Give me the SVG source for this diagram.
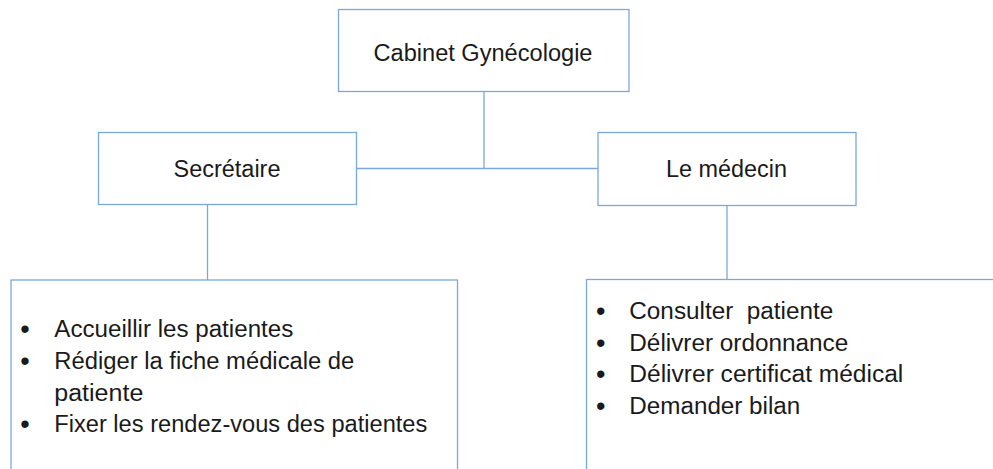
<svg xmlns="http://www.w3.org/2000/svg" width="993" height="469" viewBox="0 0 993 469">
  <style>
    .box { fill: #ffffff; stroke: #7aa8dc; stroke-width: 1.3; }
    .link { fill: none; stroke: #7aa8dc; stroke-width: 1.3; }
    .t { font-family: "Liberation Sans", Arial, sans-serif; font-size: 23px; fill: #1a1a1a; white-space: pre; }
    .mid { text-anchor: middle; }
    .b { font-family: "Liberation Sans", Arial, sans-serif; font-size: 27px; fill: #1a1a1a; }
  </style>
  <rect width="993" height="469" fill="#ffffff"/>

  <!-- connectors -->
  <g id="connectors">
    <line class="link" x1="484" y1="92" x2="484" y2="169"/>
    <line class="link" x1="357" y1="168.5" x2="598" y2="168.5"/>
    <line class="link" x1="207.5" y1="204.5" x2="207.5" y2="280"/>
    <line class="link" x1="727" y1="205.5" x2="727" y2="280"/>
  </g>

  <!-- root -->
  <g id="cabinet">
    <rect class="box" x="338.5" y="9.5" width="290.5" height="82"/>
    <text class="t mid" x="483" y="60.5" textLength="219" lengthAdjust="spacingAndGlyphs">Cabinet Gynécologie</text>
  </g>

  <!-- secretary -->
  <g id="secretaire">
    <rect class="box" x="98.5" y="132.5" width="258" height="72"/>
    <text class="t mid" x="227" y="176.5" textLength="107" lengthAdjust="spacingAndGlyphs">Secrétaire</text>
  </g>

  <!-- doctor -->
  <g id="medecin">
    <rect class="box" x="598" y="132.5" width="258" height="73"/>
    <text class="t mid" x="726.5" y="176.5" textLength="121" lengthAdjust="spacingAndGlyphs">Le médecin</text>
  </g>

  <!-- secretary tasks -->
  <g id="taches-secretaire">
    <rect class="box" x="11" y="280" width="446.5" height="200"/>
    <text class="b" x="20.3" y="338">•</text>
    <text class="t" x="54.3" y="337" textLength="239" lengthAdjust="spacingAndGlyphs">Accueillir les patientes</text>
    <text class="b" x="20.3" y="370">•</text>
    <text class="t" x="54.3" y="369" textLength="300" lengthAdjust="spacingAndGlyphs">Rédiger la fiche médicale de</text>
    <text class="t" x="54.3" y="400.5" textLength="89" lengthAdjust="spacingAndGlyphs">patiente</text>
    <text class="b" x="20.3" y="433">•</text>
    <text class="t" x="54.3" y="432" textLength="373" lengthAdjust="spacingAndGlyphs">Fixer les rendez-vous des patientes</text>
  </g>

  <!-- doctor tasks -->
  <g id="taches-medecin">
    <rect class="box" x="586.5" y="279.5" width="420" height="200"/>
    <text class="b" x="596" y="320">•</text>
    <text class="t" x="629.3" y="319" textLength="204" lengthAdjust="spacingAndGlyphs" xml:space="preserve">Consulter  patiente</text>
    <text class="b" x="596" y="351.5">•</text>
    <text class="t" x="629.3" y="350.5" textLength="219" lengthAdjust="spacingAndGlyphs">Délivrer ordonnance</text>
    <text class="b" x="596" y="383">•</text>
    <text class="t" x="629.3" y="382" textLength="274" lengthAdjust="spacingAndGlyphs">Délivrer certificat médical</text>
    <text class="b" x="596" y="414.5">•</text>
    <text class="t" x="629.3" y="413.5" textLength="171" lengthAdjust="spacingAndGlyphs">Demander bilan</text>
  </g>
</svg>
